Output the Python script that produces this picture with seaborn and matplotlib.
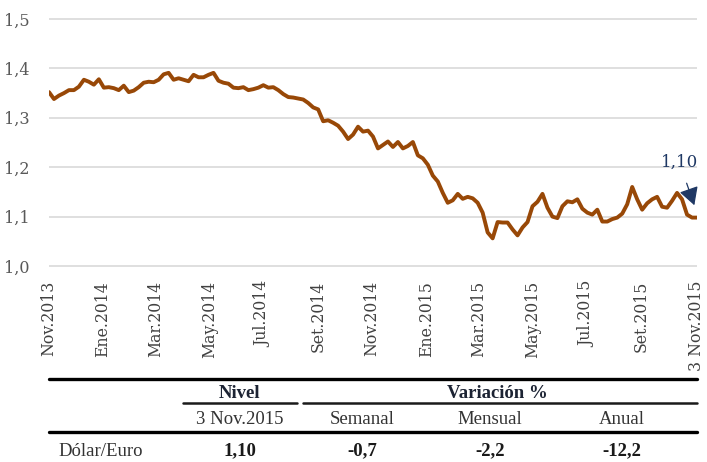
import numpy as np
import pandas as pd
import matplotlib.pyplot as plt
import seaborn as sns
from matplotlib.lines import Line2D

sns.set_theme(style="white")
plt.rcParams['font.family'] = ['DejaVu Serif']

# ==============================
# DATA
# ==============================
start_date = "2013-11-01"
end_date = "2015-11-03"

usd_per_eur = [
    1.352, 1.338, 1.345, 1.350, 1.356, 1.356, 1.363, 1.377, 1.373, 1.367,
    1.378, 1.361, 1.362, 1.360, 1.356, 1.365, 1.352, 1.355, 1.362, 1.371,
    1.373, 1.372, 1.377, 1.388, 1.391, 1.377, 1.380, 1.377, 1.374, 1.387,
    1.382, 1.382, 1.387, 1.391, 1.375, 1.371, 1.369, 1.361, 1.360, 1.362,
    1.356, 1.358, 1.361, 1.366, 1.361, 1.362, 1.356, 1.348, 1.342, 1.341,
    1.339, 1.337, 1.330, 1.321, 1.317, 1.293, 1.295, 1.290, 1.284, 1.272,
    1.257, 1.266, 1.282, 1.272, 1.274, 1.262, 1.238, 1.245, 1.252, 1.241,
    1.251, 1.238, 1.243, 1.251, 1.224, 1.218, 1.205, 1.183, 1.171, 1.148,
    1.128, 1.133, 1.146, 1.136, 1.140, 1.137, 1.128, 1.108, 1.068, 1.056,
    1.089, 1.088, 1.088, 1.074, 1.062, 1.078, 1.089, 1.121, 1.130, 1.146,
    1.118, 1.100, 1.097, 1.121, 1.131, 1.129, 1.135, 1.116, 1.108, 1.104,
    1.114, 1.090, 1.090, 1.095, 1.098, 1.106, 1.125, 1.160, 1.135, 1.114,
    1.127, 1.135, 1.140, 1.120, 1.118, 1.132, 1.148, 1.135, 1.104, 1.098,
    1.098,
]

tick_dates = ["2013-11-01", "2014-01-01", "2014-03-01", "2014-05-01",
              "2014-07-01", "2014-09-01", "2014-11-01", "2015-01-01",
              "2015-03-01", "2015-05-01", "2015-07-01", "2015-09-01",
              "2015-11-03"]
tick_labels = ["Nov.2013", "Ene.2014", "Mar.2014", "May.2014", "Jul.2014",
               "Set.2014", "Nov.2014", "Ene.2015", "Mar.2015", "May.2015",
               "Jul.2015", "Set.2015", "3 Nov.2015"]

y_ticks = [1.0, 1.1, 1.2, 1.3, 1.4, 1.5]
y_labels = ["1,0", "1,1", "1,2", "1,3", "1,4", "1,5"]

last_label = "1,10"

# table
header_groups = ["Nivel", "Variación %"]
col_headers = ["3 Nov.2015", "Semanal", "Mensual", "Anual"]
row_label = "Dólar/Euro"
row_values = ["1,10", "-0,7", "-2,2", "-12,2"]

dates = pd.date_range(start_date, end_date, periods=len(usd_per_eur))
df = pd.DataFrame({'fecha': dates, 'tipo': usd_per_eur})

# ==============================
# PLOT
# ==============================
W, H = 707, 462
fig = plt.figure(figsize=(W / 100, H / 100), dpi=100)


def fx(x):
    return x / W


def fy(y):
    return 1 - y / H


ax = fig.add_axes([fx(49), fy(267), (697 - 49) / W, (267 - 18) / H])
sns.lineplot(data=df, x='fecha', y='tipo', color='#984807', linewidth=2.8, ax=ax)

ax.set_xlim(dates[0], dates[-1])
ax.set_ylim(0.998, 1.502)
ax.set_yticks(y_ticks)
ax.set_yticklabels(y_labels)
ax.set_xticks(pd.to_datetime(tick_dates))
ax.set_xticklabels(tick_labels, rotation=90)
ax.tick_params(axis='y', length=0, pad=14, labelsize=11.5, labelcolor='#595959')
ax.tick_params(axis='x', length=0, pad=10, labelsize=11.3, labelcolor='#404040')
ax.grid(axis='y', color='#d9d9d9', linewidth=1.2)
ax.set_axisbelow(True)
sns.despine(ax=ax, left=True, bottom=True)
ax.set_xlabel('')
ax.set_ylabel('')

ax.annotate(last_label, xy=(pd.Timestamp("2015-10-31"), 1.123),
            xytext=(pd.Timestamp("2015-10-14"), 1.21),
            ha='center', va='center', fontsize=12, color='#1f3864',
            arrowprops=dict(arrowstyle='-|>,head_length=0.9,head_width=0.5',
                            color='#1f3864', lw=0.9, shrinkA=7, shrinkB=0))

# ==============================
# TABLE
# ==============================
tfont = ['Liberation Serif']
fig.add_artist(Line2D([fx(49), fx(697)], [fy(379)] * 2, color='black', lw=2.4))
fig.add_artist(Line2D([fx(183), fx(297)], [fy(403)] * 2, color='#1a1a1a', lw=1.8))
fig.add_artist(Line2D([fx(303), fx(697)], [fy(403)] * 2, color='#1a1a1a', lw=1.8))
fig.add_artist(Line2D([fx(49), fx(697)], [fy(432)] * 2, color='black', lw=2.4))

fig.text(fx(240), fy(393), header_groups[0], ha='center', va='center',
         fontsize=13.5, fontweight='bold', color='#1c2333', family=tfont)
fig.text(fx(497), fy(393), header_groups[1], ha='center', va='center',
         fontsize=13.5, fontweight='bold', color='#1c2333', family=tfont)

col_x = [240, 362, 490, 622]
for x, h, v in zip(col_x, col_headers, row_values):
    fig.text(fx(x), fy(420), h, ha='center', va='center',
             fontsize=13.5, color='#333333', family=tfont)
    fig.text(fx(x), fy(451), v, ha='center', va='center',
             fontsize=13.5, fontweight='bold', color='#1a1a1a', family=tfont)

fig.text(fx(58), fy(451), row_label, ha='left', va='center',
         fontsize=13.5, color='#333333', family=tfont)

fig.savefig("out.png", dpi=100)
